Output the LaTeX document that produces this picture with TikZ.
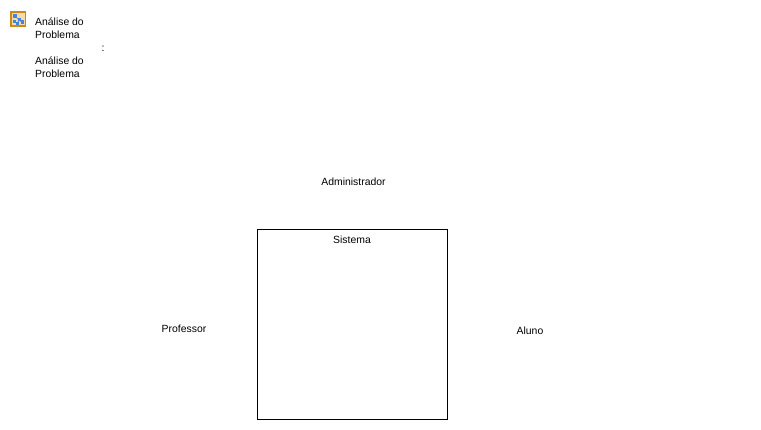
\documentclass[tikz,border=0pt]{standalone}
\usepackage{fontspec}
\setmainfont{Liberation Sans}
\definecolor{iconedge}{HTML}{C98A1B}
\definecolor{iconfill}{HTML}{FAD9A8}
\definecolor{iconblue}{HTML}{3F86E0}
\tikzset{lbl/.style={inner sep=0pt,font=\fontsize{10.4pt}{13pt}\selectfont,text=black},
lblL/.style={lbl,align=left,anchor=north west}}
\begin{document}
\begin{tikzpicture}[x=1pt,y=-1pt,line width=1pt]
\useasboundingbox (0,0) rectangle (761,429);
\fill[white] (0,0) rectangle (761,429);
% icon
\draw[draw=iconedge,fill=iconfill,line width=1.5pt] (11,12) rectangle (25.5,26);
\draw[iconblue,line width=0.7pt] (15,16) -- (19,20) -- (22,22) (19,20) -- (17,24);
\fill[iconblue] (13,14) rectangle (17,18);
\fill[iconblue] (13,20) rectangle (16,23);
\fill[iconblue] (18,18) rectangle (21,21);
\fill[iconblue] (16,22) rectangle (19,25);
\fill[iconblue] (21,20) rectangle (24,24);
\node[lblL] (t1) at (34.7,17) {Análise do\\Problema};
\node[lbl] (c) at (103,48.5) {:};
\node[lblL] (t2) at (34.7,56) {Análise do\\Problema};
\node[lbl] (adm) at (353.5,181.8) {Administrador};
\node[draw=black,line width=1pt,minimum width=190pt,minimum height=190pt,inner sep=0pt] (sys) at (352.5,324.5) {};
\node[lbl] (s) at (352,239.8) {Sistema};
\node[lbl] (p) at (184,328.8) {Professor};
\node[lbl] (a) at (530,330.8) {Aluno};
\end{tikzpicture}
\end{document}
